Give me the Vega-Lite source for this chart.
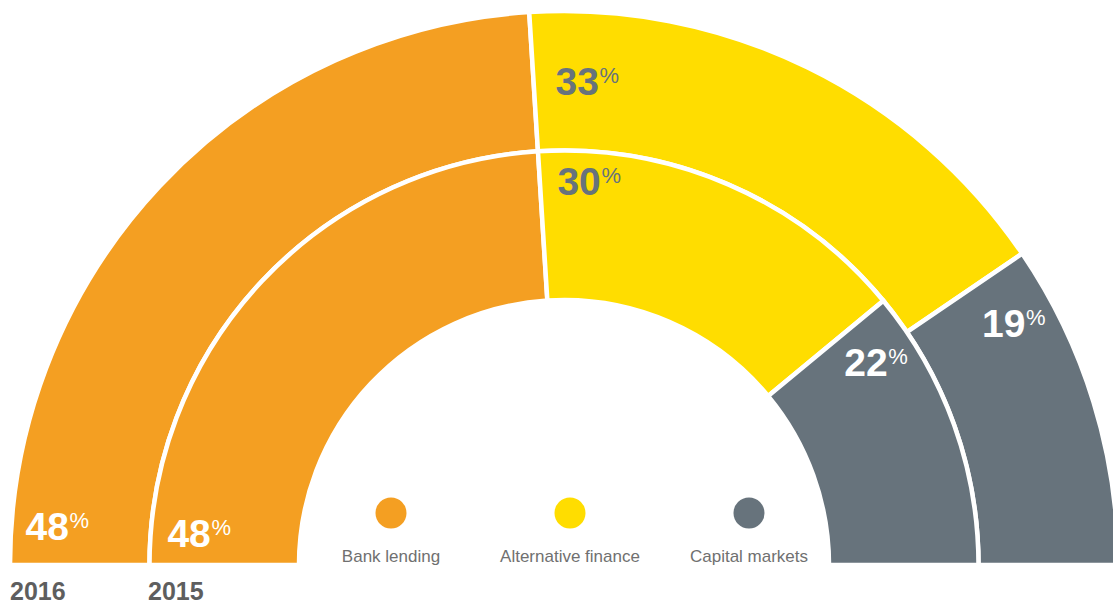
{
  "$schema": "https://vega.github.io/schema/vega-lite/v6.json",
  "width": 1128,
  "height": 1130,
  "autosize": "none",
  "padding": 0,
  "background": "white",
  "config": {"view": {"stroke": null}, "font": "Liberation Sans"},
  "data": {"values": [
      {"ring": 2016, "category": "Bank lending", "rank": 1, "pct": 48},
      {"ring": 2016, "category": "Alternative finance", "rank": 2, "pct": 33},
      {"ring": 2016, "category": "Capital markets", "rank": 3, "pct": 19},
      {"ring": 2015, "category": "Bank lending", "rank": 1, "pct": 48},
      {"ring": 2015, "category": "Alternative finance", "rank": 2, "pct": 30},
      {"ring": 2015, "category": "Capital markets", "rank": 3, "pct": 22}
  ]},
  "transform": [
    {"stack": "pct", "groupby": ["ring"], "sort": [{"field": "rank", "order": "ascending"}], "as": ["start", "end"]}
  ],
  "layer": [
    {
      "transform": [{"filter": "datum.ring == 2016"}],
      "mark": {"type": "arc", "radius": 554, "radius2": 414.5, "stroke": "white", "strokeWidth": 4.5},
      "encoding": {
        "theta": {"field": "start", "type": "quantitative", "stack": null, "scale": {"domain": [0, 100], "range": [-1.5708, 1.5708]}},
        "theta2": {"field": "end"},
        "color": {"field": "category", "type": "nominal", "scale": {"domain": ["Bank lending", "Alternative finance", "Capital markets"], "range": ["#F49F22", "#FFDD00", "#67737C"]}, "legend": null}
      }
    },
    {
      "transform": [{"filter": "datum.ring == 2015"}],
      "mark": {"type": "arc", "radius": 414.5, "radius2": 265, "stroke": "white", "strokeWidth": 4.5},
      "encoding": {
        "theta": {"field": "start", "type": "quantitative", "stack": null},
        "theta2": {"field": "end"},
        "color": {"field": "category", "type": "nominal", "legend": null}
      }
    },
    {
      "transform": [{"filter": "datum.category == 'Bank lending'"}],
      "mark": {"type": "text", "align": "left", "baseline": "alphabetic", "fontSize": 39, "fontWeight": "bold", "thetaOffset": 0.046},
      "encoding": {
        "theta": {"field": "start", "type": "quantitative", "stack": null},
        "radius": {"field": "ring", "type": "quantitative", "scale": {"type": "linear", "domain": [2015, 2016], "range": [397, 539], "zero": false, "nice": false}},
        "text": {"field": "pct", "type": "quantitative"},
        "color": {"value": "#ffffff"}
      }
    },
    {
      "transform": [{"filter": "datum.category == 'Bank lending'"}],
      "mark": {"type": "text", "align": "left", "baseline": "alphabetic", "fontSize": 22, "dx": 44, "dy": -12, "thetaOffset": 0.046},
      "encoding": {
        "theta": {"field": "start", "type": "quantitative", "stack": null},
        "radius": {"field": "ring", "type": "quantitative", "scale": {"type": "linear", "domain": [2015, 2016], "range": [397, 539], "zero": false, "nice": false}},
        "text": {"value": "%"},
        "color": {"value": "#ffffff"}
      }
    },
    {
      "transform": [{"filter": "datum.category == 'Alternative finance'"}],
      "mark": {"type": "text", "align": "left", "baseline": "alphabetic", "fontSize": 39, "fontWeight": "bold", "thetaOffset": 0.045},
      "encoding": {
        "theta": {"field": "start", "type": "quantitative", "stack": null},
        "radius": {"field": "ring", "type": "quantitative", "scale": {"type": "linear", "domain": [2015, 2016], "range": [370, 470], "zero": false, "nice": false}},
        "text": {"field": "pct", "type": "quantitative"},
        "color": {"value": "#67737C"}
      }
    },
    {
      "transform": [{"filter": "datum.category == 'Alternative finance'"}],
      "mark": {"type": "text", "align": "left", "baseline": "alphabetic", "fontSize": 22, "dx": 44, "dy": -12, "thetaOffset": 0.045},
      "encoding": {
        "theta": {"field": "start", "type": "quantitative", "stack": null},
        "radius": {"field": "ring", "type": "quantitative", "scale": {"type": "linear", "domain": [2015, 2016], "range": [370, 470], "zero": false, "nice": false}},
        "text": {"value": "%"},
        "color": {"value": "#67737C"}
      }
    },
    {
      "transform": [{"filter": "datum.category == 'Capital markets'"}],
      "mark": {"type": "text", "align": "left", "baseline": "alphabetic", "fontSize": 39, "fontWeight": "bold", "thetaOffset": 0.098},
      "encoding": {
        "theta": {"field": "start", "type": "quantitative", "stack": null},
        "radius": {"field": "ring", "type": "quantitative", "scale": {"type": "linear", "domain": [2015, 2016], "range": [338, 476], "zero": false, "nice": false}},
        "text": {"field": "pct", "type": "quantitative"},
        "color": {"value": "#ffffff"}
      }
    },
    {
      "transform": [{"filter": "datum.category == 'Capital markets'"}],
      "mark": {"type": "text", "align": "left", "baseline": "alphabetic", "fontSize": 22, "dx": 44, "dy": -12, "thetaOffset": 0.098},
      "encoding": {
        "theta": {"field": "start", "type": "quantitative", "stack": null},
        "radius": {"field": "ring", "type": "quantitative", "scale": {"type": "linear", "domain": [2015, 2016], "range": [338, 476], "zero": false, "nice": false}},
        "text": {"value": "%"},
        "color": {"value": "#ffffff"}
      }
    },
    {
      "transform": [{"filter": "datum.category == 'Bank lending'"}],
      "mark": {"type": "text", "align": "left", "baseline": "alphabetic", "fontSize": 25, "fontWeight": "bold", "dy": 35},
      "encoding": {
        "theta": {"field": "start", "type": "quantitative", "stack": null},
        "radius": {"field": "ring", "type": "quantitative", "scale": {"type": "linear", "domain": [2015, 2016], "range": [416, 554], "zero": false, "nice": false}},
        "text": {"field": "ring", "type": "quantitative", "format": "d"},
        "color": {"value": "#5e5e5e"}
      }
    },
    {
      "transform": [{"filter": "datum.ring == 2016"}],
      "mark": {"type": "point", "filled": true, "size": 962, "opacity": 1},
      "encoding": {
        "x": {"field": "category", "type": "nominal", "sort": null, "scale": {"type": "point", "domain": ["Bank lending", "Alternative finance", "Capital markets"], "range": [391, 749], "padding": 0}, "axis": null},
        "y": {"datum": 52, "type": "quantitative", "scale": {"domain": [-565, 565], "nice": false, "zero": false}, "axis": null},
        "color": {"field": "category", "type": "nominal", "legend": null}
      }
    },
    {
      "transform": [{"filter": "datum.ring == 2016"}],
      "mark": {"type": "text", "align": "center", "baseline": "alphabetic", "fontSize": 17},
      "encoding": {
        "x": {"field": "category", "type": "nominal", "sort": null, "axis": null},
        "y": {"datum": 3, "type": "quantitative", "axis": null},
        "text": {"field": "category", "type": "nominal"},
        "color": {"value": "#707070"}
      }
    }
  ],
  "resolve": {"scale": {"radius": "independent"}}
}
